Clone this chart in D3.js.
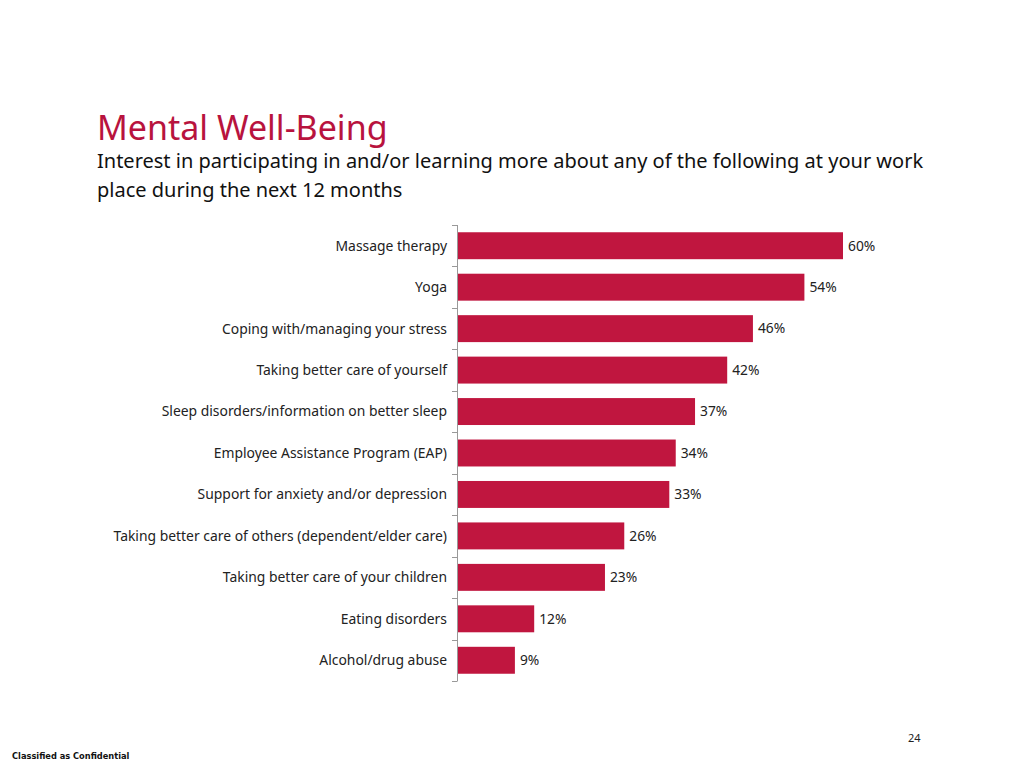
<!DOCTYPE html>
<html><head><meta charset="utf-8">
<script src="https://cdn.jsdelivr.net/npm/d3@7"></script>
<style>body{margin:0;background:#fff;}svg{display:block;}</style>
</head><body>
<svg id="c" width="1024" height="768"></svg>
<script>
const categories = ["Massage therapy","Yoga","Coping with/managing your stress","Taking better care of yourself","Sleep disorders/information on better sleep","Employee Assistance Program (EAP)","Support for anxiety and/or depression","Taking better care of others (dependent/elder care)","Taking better care of your children","Eating disorders","Alcohol/drug abuse"];
const values = [60,54,46,42,37,34,33,26,23,12,9];
const title = "Mental Well-Being";
const subtitleLines = ["Interest in participating in and/or learning more about any of the following at your work","place during the next 12 months"];

const svg = d3.select("#c");
const font = "'Noto Sans', 'Open Sans', sans-serif";
const red = "#C0163F";

svg.append("text").attr("x",97).attr("y",140).attr("font-family",font).attr("font-size",34).attr("fill","#B8133E").text(title);
subtitleLines.forEach((l,i)=>svg.append("text").attr("x",97).attr("y",168+i*29).attr("font-family",font).attr("font-size",20).attr("fill","#111").text(l));

const x = d3.scaleLinear().domain([0,60]).range([457,843]);
const y = d3.scaleBand().domain(categories).range([225,681]).paddingInner(0.35).paddingOuter(0.175);

svg.selectAll("rect.bar").data(values).enter().append("rect")
  .attr("x",x(0)).attr("y",(d,i)=>y(categories[i])).attr("width",d=>x(d)-x(0)).attr("height",y.bandwidth()).attr("fill",red);

svg.selectAll("text.val").data(values).enter().append("text")
  .attr("x",d=>x(d)+5).attr("y",(d,i)=>y(categories[i])+y.bandwidth()/2).attr("dy","0.35em")
  .attr("font-family",font).attr("font-size",13.8).attr("fill","#222").text(d=>d+"%");

const g = svg.append("g");
g.append("line").attr("x1",457.5).attr("x2",457.5).attr("y1",225).attr("y2",681).attr("stroke","#999").attr("stroke-width",1);
d3.range(categories.length+1).forEach(i=>{
  const yy = Math.round(225 + i*(456/categories.length))+0.5;
  g.append("line").attr("x1",452).attr("x2",457.5).attr("y1",yy).attr("y2",yy).attr("stroke","#999");
});
svg.selectAll("text.cat").data(categories).enter().append("text")
  .attr("x",447).attr("y",d=>y(d)+y.bandwidth()/2).attr("dy","0.35em").attr("text-anchor","end")
  .attr("font-family",font).attr("font-size",13.9).attr("fill","#222").text(d=>d);

svg.append("text").attr("x",908).attr("y",742).attr("font-family",font).attr("font-size",11).attr("fill","#222").text("24");
svg.append("text").attr("x",12).attr("y",759).attr("font-family","'Liberation Sans Narrow','DejaVu Sans Condensed',sans-serif").attr("font-size",9.2).attr("font-weight","bold").attr("fill","#111").text("Classified as Confidential");
</script>
</body></html>
